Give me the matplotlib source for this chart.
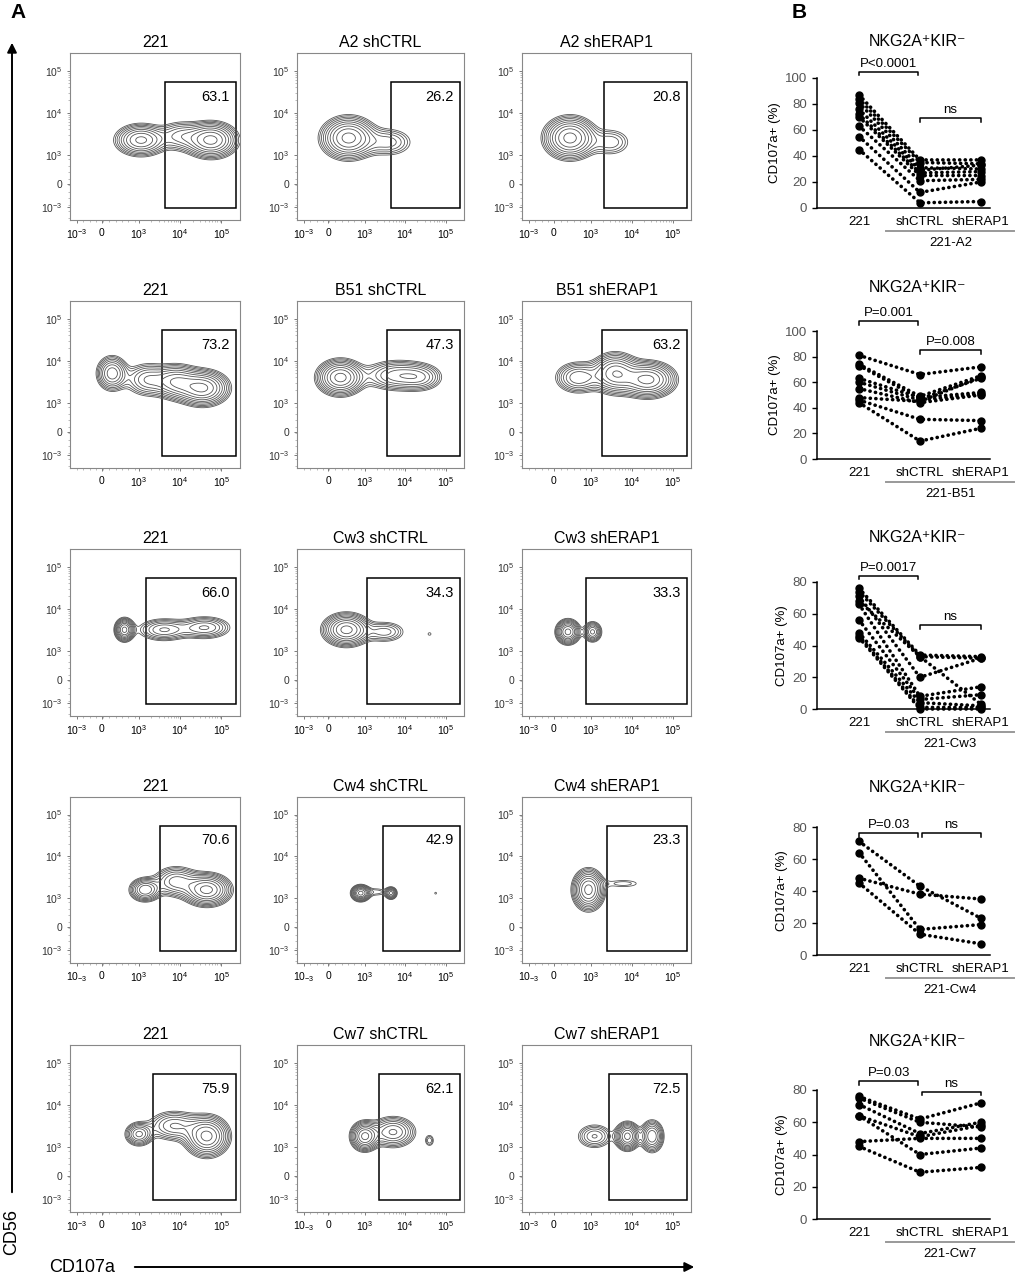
import numpy as np
import matplotlib.pyplot as plt

W, H = 1016, 1275

# ---------------- panel A: flow cytometry (CD107a vs CD56) ----------------
# axis units: decade positions, 10^3 -> 3, 10^4 -> 4, 10^5 -> 5
row_titles = [
    ["221", "A2 shCTRL", "A2 shERAP1"],
    ["221", "B51 shCTRL", "B51 shERAP1"],
    ["221", "Cw3 shCTRL", "Cw3 shERAP1"],
    ["221", "Cw4 shCTRL", "Cw4 shERAP1"],
    ["221", "Cw7 shCTRL", "Cw7 shERAP1"],
]
gate_pct = [
    [63.1, 26.2, 20.8],
    [73.2, 47.3, 63.2],
    [66.0, 34.3, 33.3],
    [70.6, 42.9, 23.3],
    [75.9, 62.1, 72.5],
]
gate_left = [
    [3.64, 3.64, 3.33],
    [3.56, 3.54, 3.27],
    [3.18, 3.06, 2.88],
    [3.52, 3.45, 3.41],
    [3.35, 3.35, 3.45],
]
# populations seen in each plot: (x centre, y centre, x spread, y spread, weight)
pops_row1 = [
    [(3.05, 3.35, 0.33, 0.2, 1.0), (4.0, 3.45, 0.3, 0.2, 0.45), (4.75, 3.35, 0.33, 0.22, 1.3)],
    [(2.6, 3.4, 0.35, 0.26, 1.0), (3.6, 3.3, 0.35, 0.2, 0.3)],
    [(2.5, 3.4, 0.33, 0.26, 1.0), (3.5, 3.3, 0.3, 0.2, 0.25)],
]
pops_row2 = [
    [(2.35, 3.7, 0.2, 0.22, 0.7), (3.2, 3.55, 0.3, 0.22, 0.45), (3.9, 3.5, 0.3, 0.22, 0.7),
     (4.55, 3.35, 0.33, 0.22, 1.0)],
    [(2.4, 3.6, 0.3, 0.22, 1.0), (3.8, 3.65, 0.45, 0.2, 0.5), (4.4, 3.6, 0.3, 0.18, 0.3)],
    [(2.7, 3.6, 0.3, 0.2, 0.5), (3.6, 3.7, 0.3, 0.25, 0.8), (4.4, 3.55, 0.35, 0.22, 0.9)],
]
pops_row3 = [
    [(2.65, 3.5, 0.12, 0.14, 1.0), (3.6, 3.5, 0.35, 0.15, 0.45), (4.6, 3.55, 0.35, 0.15, 0.45)],
    [(2.55, 3.5, 0.3, 0.2, 1.0), (3.5, 3.45, 0.3, 0.15, 0.3), (4.6, 3.4, 0.06, 0.05, 0.12)],
    [(2.45, 3.45, 0.15, 0.15, 1.0), (3.05, 3.45, 0.12, 0.13, 0.6)],
]
pops_row4 = [
    [(3.15, 3.2, 0.2, 0.15, 0.7), (3.9, 3.4, 0.3, 0.2, 0.5), (4.65, 3.2, 0.3, 0.2, 1.0)],
    [(2.9, 3.12, 0.12, 0.1, 1.0), (3.3, 3.15, 0.2, 0.08, 0.15), (3.65, 3.12, 0.08, 0.08, 0.6),
     (4.75, 3.12, 0.04, 0.04, 0.12)],
    [(2.95, 3.2, 0.2, 0.25, 1.0), (3.8, 3.35, 0.35, 0.08, 0.15)],
]
pops_row5 = [
    [(3.0, 3.3, 0.18, 0.15, 0.6), (3.85, 3.5, 0.35, 0.2, 0.45), (4.65, 3.25, 0.28, 0.25, 1.0)],
    [(3.0, 3.25, 0.18, 0.18, 1.0), (3.7, 3.35, 0.3, 0.2, 0.6), (4.6, 3.15, 0.08, 0.1, 0.2)],
    [(3.1, 3.25, 0.25, 0.17, 0.35), (3.9, 3.25, 0.15, 0.17, 1.0), (4.5, 3.25, 0.15, 0.2, 0.7)],
]
all_pops = [pops_row1, pops_row2, pops_row3, pops_row4, pops_row5]

flow_x_ticks = [1.5, 2.1, 3, 4, 5]
flow_y_ticks = [1.75, 2.3, 3, 4, 5]
flow_y_labels = [r"$10^{-3}$", "0", r"$10^{3}$", r"$10^{4}$", r"$10^{5}$"]

# ---------------- panel B: CD107a+ (%) per donor ----------------
groups = ["221", "shCTRL", "shERAP1"]
a2_221 = [87, 84, 81, 76, 72, 70, 63, 55, 45]
a2_shctrl = [37, 35, 31, 29, 27, 25, 21, 12, 4]
a2_sherap1 = [37, 34, 30, 33, 28, 25, 22, 20, 5]
b51_221 = [81, 74, 73, 63, 60, 55, 48, 46, 44]
b51_shctrl = [66, 49, 47, 48, 46, 44, 45, 31, 14]
b51_sherap1 = [72, 65, 63, 52, 51, 50, 64, 30, 24]
cw3_221 = [76, 74, 71, 68, 66, 56, 48, 46, 45]
cw3_shctrl = [34, 33, 20, 33, 8, 6, 4, 1, 0]
cw3_sherap1 = [33, 32, 32, 3, 14, 9, 2, 1, 0]
cw4_221 = [71, 64, 48, 45]
cw4_shctrl = [43, 16, 38, 13]
cw4_sherap1 = [23, 19, 35, 7]
cw7_221 = [76, 75, 71, 64, 64, 48, 45]
cw7_shctrl = [62, 60, 53, 51, 40, 50, 29]
cw7_sherap1 = [72, 57, 60, 58, 44, 50, 32]

fig = plt.figure(figsize=(W / 100, H / 100), dpi=100)
plt.rcParams['font.family'] = ['Liberation Sans', 'DejaVu Sans']
plt.rcParams['mathtext.fontset'] = 'custom'
plt.rcParams['mathtext.rm'] = 'Liberation Sans'


def px_axes(x0, y0, x1, y1):
    return fig.add_axes([x0 / W, 1 - y1 / H, (x1 - x0) / W, (y1 - y0) / H])


col_px = [(70, 240), (297, 464), (522, 691)]
row_px = [(53, 220), (301, 468), (549, 716), (797, 963), (1045, 1212)]

gx = np.linspace(1.33, 5.45, 240)
gy = np.linspace(1.45, 5.42, 240)
XX, YY = np.meshgrid(gx, gy)
levels = np.geomspace(0.1, 0.9, 10)

minor_pos = []
for d in [3, 4]:
    for k in range(2, 10):
        minor_pos.append(d + np.log10(k))
minor_pos += list(np.linspace(1.5, 2.9, 10))

for r in range(5):
    for c in range(3):
        x0, x1 = col_px[c]
        y0, y1 = row_px[r]
        ax = px_axes(x0, y0, x1, y1)
        ax.set_xlim(1.33, 5.45)
        ax.set_ylim(1.45, 5.42)
        dens = np.zeros_like(XX)
        for (mx, my, sx, sy, w) in all_pops[r][c]:
            dens += w * np.exp(-((XX - mx) ** 2 / (2 * sx ** 2) + (YY - my) ** 2 / (2 * sy ** 2)))
        dens /= dens.max()
        ax.contour(XX, YY, dens, levels=levels, colors='#555555', linewidths=0.6)
        gl = gate_left[r][c]
        ax.add_patch(plt.Rectangle((gl, 1.73), 5.36 - gl, 4.72 - 1.73, fill=False,
                                   edgecolor='black', linewidth=1.1))
        ax.text(5.2, 4.55, f"{gate_pct[r][c]:.1f}", ha='right', va='top', fontsize=10.5)
        ax.set_title(row_titles[r][c], fontsize=11.5, pad=4)
        if r == 1:
            ax.set_xticks(flow_x_ticks[1:])
            ax.set_xticklabels(["0", r"$10^{3}$", r"$10^{4}$", r"$10^{5}$"])
        else:
            ax.set_xticks(flow_x_ticks)
            first = r"$10_{-3}$" if (r == 3 or (r == 4 and c == 1)) else r"$10^{-3}$"
            ax.set_xticklabels([first, "0", r"$10^{3}$", r"$10^{4}$", r"$10^{5}$"])
        ax.set_yticks(flow_y_ticks)
        ax.set_yticklabels(flow_y_labels)
        ax.set_xticks(minor_pos, minor=True)
        ax.set_yticks(minor_pos, minor=True)
        ax.tick_params(axis='both', which='major', labelsize=7.5, length=2.5, width=0.6,
                       color='#666666', pad=3)
        ax.tick_params(axis='both', which='minor', length=1.5, width=0.4, color='#888888')
        ax.tick_params(axis='y', labelcolor='#333333')
        for s in ax.spines.values():
            s.set_color('#888888')
            s.set_linewidth(0.8)

# axis arrows for panel A
fig.patches.append(plt.matplotlib.patches.FancyArrowPatch(
    (12 / W, 1 - 1195 / H), (12 / W, 1 - 40 / H), transform=fig.transFigure,
    arrowstyle='-|>', mutation_scale=14, linewidth=1.4, color='black'))
fig.text(12 / W, 1 - 1232 / H, "CD56", rotation=90, ha='center', va='center', fontsize=13)
fig.patches.append(plt.matplotlib.patches.FancyArrowPatch(
    (132 / W, 1 - 1267 / H), (697 / W, 1 - 1267 / H), transform=fig.transFigure,
    arrowstyle='-|>', mutation_scale=14, linewidth=1.4, color='black'))
fig.text(82 / W, 1 - 1267 / H, "CD107a", ha='center', va='center', fontsize=13)

fig.text(10 / W, 1 - 12 / H, "A", fontsize=15, fontweight='bold', va='center')
fig.text(792 / W, 1 - 12 / H, "B", fontsize=15, fontweight='bold', va='center')

# ---------------- panel B drawing ----------------
dot_panels = [
    (78, 208, 100, [a2_221, a2_shctrl, a2_sherap1], "221-A2", 42,
     [(0, 0.97, 105, "P<0.0001"), (1.0, 2.0, 69, "ns")]),
    (331, 459, 100, [b51_221, b51_shctrl, b51_sherap1], "221-B51", 287,
     [(0, 0.97, 108, "P=0.001"), (1.0, 2.0, 85, "P=0.008")]),
    (582, 709, 80, [cw3_221, cw3_shctrl, cw3_sherap1], "221-Cw3", 538,
     [(0, 0.97, 84, "P=0.0017"), (1.0, 2.0, 53, "ns")]),
    (827, 955, 80, [cw4_221, cw4_shctrl, cw4_sherap1], "221-Cw4", 788,
     [(0, 0.97, 76, "P=0.03"), (1.03, 2.0, 76, "ns")]),
    (1090, 1219, 80, [cw7_221, cw7_shctrl, cw7_sherap1], "221-Cw7", 1042,
     [(0, 0.97, 85.6, "P=0.03"), (1.03, 2.0, 79, "ns")]),
]

for top, zero, ymax, vals, cell, title_y, brackets in dot_panels:
    hpx = zero - top
    ax = px_axes(817, top, 990, zero)
    ax.set_xlim(-0.69, 2.15)
    ax.set_ylim(0, ymax)
    for i in range(len(vals[0])):
        ax.plot([0, 1, 2], [vals[0][i], vals[1][i], vals[2][i]], color='black',
                linestyle=(0, (0.05, 1.5)), linewidth=2.6, dash_capstyle='round',
                marker='o', markersize=5, clip_on=False)
    ax.set_yticks(np.arange(0, ymax + 1, 20))
    ax.set_xticks([0, 1, 2])
    ax.set_xticklabels(groups)
    ax.tick_params(axis='x', length=0, labelsize=9.5, pad=6)
    ax.tick_params(axis='y', length=3.5, width=1, labelsize=9.5, labelcolor='#555555')
    ax.spines['top'].set_visible(False)
    ax.spines['right'].set_visible(False)
    ax.spines['left'].set_linewidth(1.1)
    ax.spines['bottom'].set_linewidth(1.1)
    ax.set_ylabel("CD107a+ (%)", fontsize=9.5, labelpad=3)
    d = ymax * 0.03
    for bx0, bx1, by, txt in brackets:
        ax.plot([bx0, bx0, bx1, bx1], [by - d, by, by, by - d], color='black',
                linewidth=1.1, clip_on=False)
        ax.text((bx0 + bx1) / 2, by + ymax * 0.015, txt, ha='center', va='bottom', fontsize=9.5)
    ax.plot([0.45, 2.55], [-23 / hpx, -23 / hpx], color='#999999', linewidth=1.4, clip_on=False,
            transform=ax.get_xaxis_transform())
    ax.text(1.5, -35 / hpx, cell, ha='center', va='center', fontsize=9.5,
            transform=ax.get_xaxis_transform())
    fig.text(917 / W, 1 - title_y / H, "NKG2A⁺KIR⁻", ha='center', va='center', fontsize=11.5)

fig.savefig("out.png", dpi=100)
